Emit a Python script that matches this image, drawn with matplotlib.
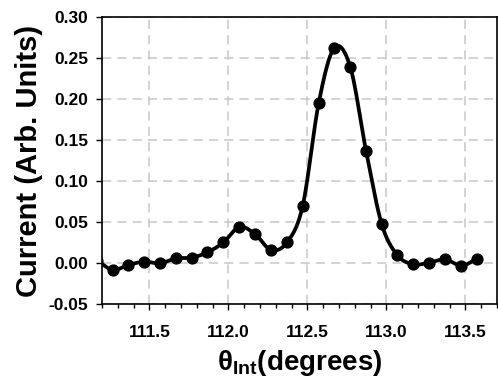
import numpy as np
import matplotlib
matplotlib.use("Agg")
import matplotlib.pyplot as plt
from matplotlib.ticker import MultipleLocator, FormatStrFormatter

plt.rcParams['font.family'] = ['Liberation Sans', 'DejaVu Sans']
plt.rcParams['mathtext.fontset'] = 'custom'
plt.rcParams['mathtext.rm'] = 'Liberation Sans:bold'
plt.rcParams['mathtext.bf'] = 'Liberation Sans:bold'

theta = [111.168, 111.268, 111.367, 111.468, 111.568, 111.669, 111.768, 111.867,
         111.968, 112.070, 112.169, 112.270, 112.370, 112.470, 112.572, 112.671,
         112.772, 112.871, 112.970, 113.070, 113.171, 113.270, 113.371, 113.473,
         113.572]
current = [0.003, -0.0085, -0.0024, 0.0016, -0.0004, 0.0057, 0.0065, 0.0130,
           0.0250, 0.0440, 0.0350, 0.0160, 0.0250, 0.0695, 0.1955, 0.2626,
           0.2386, 0.1370, 0.0476, 0.0094, -0.0016, 0.0004, 0.0045, -0.0033,
           0.0049]

x_ticks = [111.5, 112.0, 112.5, 113.0, 113.5]
y_ticks = [-0.05, 0.00, 0.05, 0.10, 0.15, 0.20, 0.25, 0.30]


def catmull_rom(x, y, n=30):
    x = np.asarray(x, float)
    y = np.asarray(y, float)
    px = np.concatenate([[2 * x[0] - x[1]], x, [2 * x[-1] - x[-2]]])
    py = np.concatenate([[2 * y[0] - y[1]], y, [2 * y[-1] - y[-2]]])
    xs, ys = [], []
    t = np.linspace(0, 1, n, endpoint=False)
    for i in range(1, len(px) - 2):
        p0, p1, p2, p3 = px[i - 1], px[i], px[i + 1], px[i + 2]
        q0, q1, q2, q3 = py[i - 1], py[i], py[i + 1], py[i + 2]
        bx = 0.5 * ((2 * p1) + (-p0 + p2) * t + (2 * p0 - 5 * p1 + 4 * p2 - p3) * t ** 2
                    + (-p0 + 3 * p1 - 3 * p2 + p3) * t ** 3)
        by = 0.5 * ((2 * q1) + (-q0 + q2) * t + (2 * q0 - 5 * q1 + 4 * q2 - q3) * t ** 2
                    + (-q0 + 3 * q1 - 3 * q2 + q3) * t ** 3)
        xs.append(bx)
        ys.append(by)
    xs.append([x[-1]])
    ys.append([y[-1]])
    return np.concatenate(xs), np.concatenate(ys)


fig = plt.figure(figsize=(4.98, 3.78), dpi=100)
ax = fig.add_axes([0.2048, 0.1958, 0.7932, 0.7592])

sx, sy = catmull_rom(theta, current)
ax.plot(sx, sy, color='black', lw=2.7, solid_capstyle='round', zorder=3)
ax.plot(theta, current, 'o', color='black', ms=7.8, zorder=4)

ax.set_xlim(111.2, 113.7)
ax.set_ylim(-0.05, 0.30)
ax.set_xticks(x_ticks)
ax.set_yticks(y_ticks)
ax.xaxis.set_minor_locator(MultipleLocator(0.1))
ax.xaxis.set_major_formatter(FormatStrFormatter('%.1f'))
ax.yaxis.set_major_formatter(FormatStrFormatter('%.2f'))

ax.grid(True, which='major', color='#c8c8c8', linestyle=(0, (6, 4)), lw=1.1, zorder=0)
ax.tick_params(axis='both', which='major', direction='out', length=4, width=1,
               labelsize=12.5)
ax.tick_params(axis='y', which='major', pad=6)
ax.tick_params(axis='x', which='minor', direction='out', length=3, width=1)
ax.tick_params(axis='x', which='major', pad=11)
for lab in ax.get_xticklabels() + ax.get_yticklabels():
    lab.set_fontweight('bold')
for s in ax.spines.values():
    s.set_linewidth(1.2)

ax.set_ylabel('Current (Arb. Units)', fontsize=21, fontweight='bold', labelpad=4)
ax.set_xlabel(r'θ$_{\mathbf{Int}}$(degrees)', fontsize=20, fontweight='bold', labelpad=6)

fig.savefig('out.png', dpi=100)
